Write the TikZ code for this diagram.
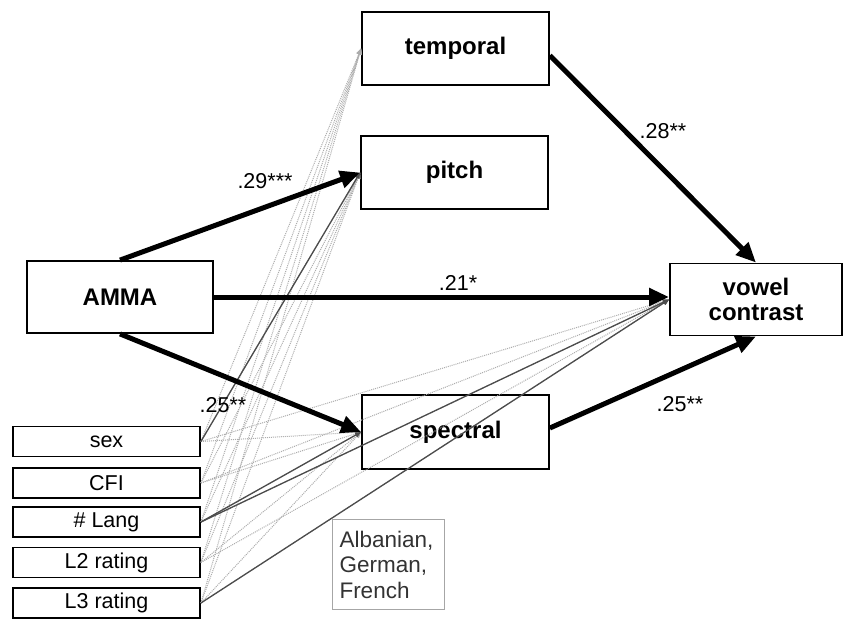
\documentclass[tikz,border=0pt]{standalone}
\usepackage{fontspec}
\setmainfont{Liberation Sans}
\usetikzlibrary{arrows.meta}
\begin{document}
\begin{tikzpicture}[x=1pt,y=-1pt,
  bigbox/.style={draw,line width=1.8pt,fill=white,minimum width=187pt,minimum height=73pt,inner sep=0pt,font=\fontsize{24}{25}\selectfont\bfseries,align=center},
  smallbox/.style={draw,line width=1.8pt,fill=white,minimum width=187pt,minimum height=30pt,inner sep=0pt,font=\fontsize{21.5}{24}\selectfont},
  mainarrow/.style={line width=5pt,-{Triangle[length=20pt,width=17pt]}},
  ctrl/.style={gray!65,line width=1pt,densely dotted,-{Triangle[length=6pt,width=5pt]}},
  ctrlsig/.style={gray!60!black,line width=1.3pt,-{Triangle[length=6pt,width=5pt]}},
  lbl/.style={font=\fontsize{21.5}{24}\selectfont,inner sep=0pt}
]
\useasboundingbox (0,0) rectangle (845,619);

% boxes
\node[bigbox] (temporal) at (455.5,48.5) {temporal};
\node[bigbox] (pitch) at (454.5,172.5) {pitch};
\node[bigbox,minimum width=186pt,minimum height=72pt] (amma) at (120,297) {AMMA};
\node[bigbox,minimum width=172pt,minimum height=72pt] (vowel) at (756,299.5) {vowel\\contrast};
\node[bigbox,minimum height=74pt] (spectral) at (455.5,432) {spectral};

\node[smallbox] (sex) at (106.5,441.5) {sex};
\node[smallbox] (cfi) at (106.5,483) {CFI};
\node[smallbox] (lang) at (106.5,522) {\# Lang};
\node[smallbox] (ltwo) at (106.5,562.5) {L2 rating};
\node[smallbox] (lthree) at (106.5,603) {L3 rating};

% control paths
\foreach \s in {sex,cfi,lang,ltwo,lthree}{
  \foreach \t in {temporal,pitch,spectral,vowel}{
    \draw[ctrl] (\s.east) -- (\t.west);
  }
}
\draw[ctrlsig] (sex.east) -- (pitch.west);
\draw[ctrlsig] (lang.east) -- (spectral.west);
\draw[ctrlsig] (lang.east) -- (vowel.west);
\draw[ctrlsig] (lthree.east) -- (vowel.west);

% note box
\node[draw=gray!70,line width=1pt,fill=white,anchor=north west,text width=98pt,inner xsep=7pt,inner ysep=0pt,minimum height=90pt,align=left,text=black!80,font=\fontsize{22.5}{25.5}\selectfont] (note) at (332,519) {Albanian,\\German,\\French};

% main paths
\draw[mainarrow] (amma.north) -- (pitch.west);
\draw[mainarrow] (amma.east) -- (amma.east -| vowel.west);
\draw[mainarrow] (amma.south) -- (spectral.west);
\draw[mainarrow] ([yshift=-7pt]temporal.east) -- (vowel.north);
\draw[mainarrow] ([yshift=4pt]spectral.east) -- (vowel.south);

% labels
\node[lbl] (l29) at (265,181) {.29***};
\node[lbl] (l21) at (458,283) {.21*};
\node[lbl] (l25a) at (223,405) {.25**};
\node[lbl] (l28) at (663,131) {.28**};
\node[lbl] (l25b) at (680,404) {.25**};
\end{tikzpicture}
\end{document}
